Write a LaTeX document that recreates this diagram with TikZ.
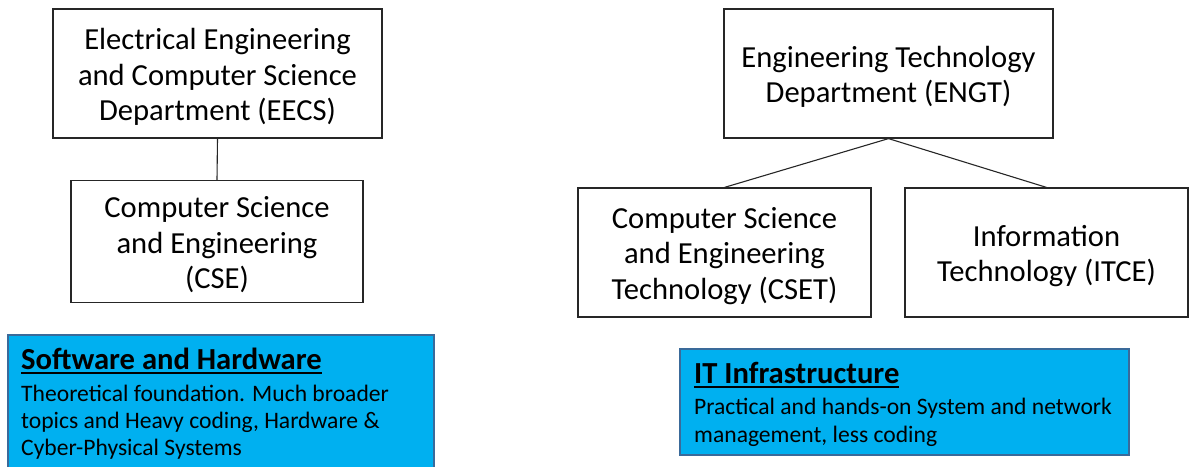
\documentclass[tikz,border=0pt]{standalone}
\usepackage{fontspec}
\setmainfont{Carlito}
\definecolor{infoblue}{HTML}{00B0F0}
\definecolor{bluebdr}{HTML}{3A6A9A}
\definecolor{boxline}{HTML}{262626}
\def\myul#1{\setbox0\hbox{#1}\rlap{\rule[-4.5pt]{\wd0}{1.8pt}}\box0}
\begin{document}
\begin{tikzpicture}[x=1pt,y=-1pt,
  box/.style={draw=boxline, line width=1.2pt, inner sep=0pt},
  boxtext/.style={inner sep=0pt, align=center, yshift=-3.5pt,
              font=\fontsize{30.6}{35.5}\selectfont},
  bluebox/.style={draw=bluebdr, fill=infoblue, line width=1.2pt, inner sep=0pt},
  bluetitle/.style={anchor=base west, inner sep=0pt, font=\fontsize{30.6}{35}\selectfont\bfseries},
  bluetext/.style={anchor=base west, inner sep=0pt, font=\fontsize{23.6}{28}\selectfont},
  link/.style={draw=boxline, line width=1.1pt}]
\useasboundingbox (0,0) rectangle (1189,466);

% left tree
\node[box, minimum width=329pt, minimum height=129pt] (eecs) at (217.5,73.5) {};
\node[boxtext] (eecst) at (eecs.center)
  {Electrical Engineering\\and Computer Science\\Department (EECS)};
\node[box, minimum width=292pt, minimum height=122pt] (cse) at (217,241.5) {};
\node[boxtext] (cset0) at (cse.center)
  {Computer Science\\and Engineering\\(CSE)};
\draw[link] (eecs.south) -- (cse.north);

% right tree
\node[box, minimum width=329pt, minimum height=129pt] (engt) at (888.5,73.5) {};
\node[boxtext] (engtt) at (engt.center)
  {Engineering Technology\\Department (ENGT)};
\node[box, minimum width=293pt, minimum height=129pt] (cset) at (724.5,252.5) {};
\node[boxtext] (csett) at (cset.center)
  {Computer Science\\and Engineering\\Technology (CSET)};
\node[box, minimum width=283pt, minimum height=129pt] (itce) at (1046.5,252.5) {};
\node[boxtext] (itcet) at (itce.center)
  {Information\\Technology (ITCE)};
\draw[link] (engt.south) -- (cset.north);
\draw[link] (engt.south) -- (itce.north);

% left blue box
\node[bluebox, minimum width=426pt, minimum height=137pt] (swbox) at (221,403.5) {};
\node[bluetitle] (swtitle) at (21,369) {\myul{Software and Hardware}};
\node[bluetext] (swl1) at (21,401) {Theoretical foundation. Much broader};
\node[bluetext] (swl2) at (21,428) {topics and Heavy coding, Hardware \&};
\node[bluetext] (swl3) at (21,455) {Cyber-Physical Systems};

% right blue box
\node[bluebox, minimum width=449pt, minimum height=106pt] (itbox) at (904.5,402) {};
\node[bluetitle] (ittitle) at (694,383) {\myul{IT Infrastructure}};
\node[bluetext] (itl1) at (694,414) {Practical and hands-on System and network};
\node[bluetext] (itl2) at (694,442) {management, less coding};
\end{tikzpicture}
\end{document}
